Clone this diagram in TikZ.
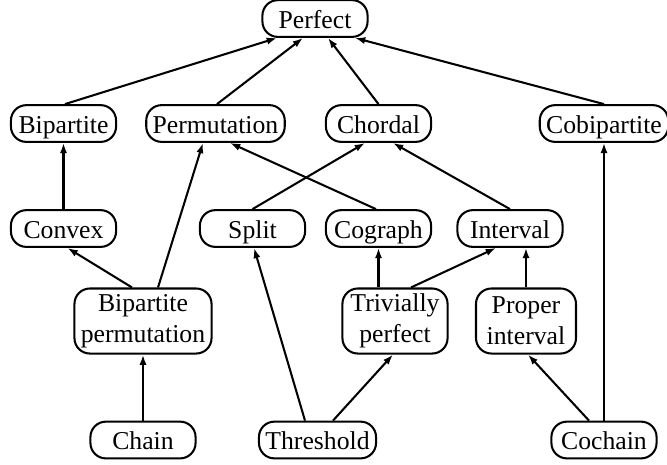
\documentclass[tikz,border=0pt]{standalone}
\usepackage{fontspec}
\setmainfont{Liberation Serif}
\usetikzlibrary{%
	calc,%
	arrows.meta
}

\begin{document}
\begin{tikzpicture}[x=0.389pt,y=-0.389pt,
		cls/.style={draw,line width=0.8pt,rounded corners=6pt,
			minimum width=40.9pt,inner xsep=2.5pt,inner ysep=2.5pt,
			text height=8.4pt,text depth=0.9pt,
			font=\rmfamily\fontsize{10}{12}\selectfont},
		cls2/.style={draw,line width=0.8pt,rounded corners=6pt,align=center,
			minimum width=40.9pt,minimum height=25.3pt,inner xsep=2.5pt,inner ysep=2pt,
			font=\rmfamily\fontsize{10}{12}\selectfont},
		sub/.style={-{Latex[length=4pt,width=2.8pt]},line width=0.8pt}]
			\useasboundingbox (0,0) rectangle (667,464);
			% Top
			\node[cls] (perfect) at (315,18.5) {Perfect};
			% Second row
			\node[cls] (bip) at (63.5,123.5) {Bipartite};
			\node[cls] (perm) at (215.5,123.5) {Permutation};
			\node[cls] (chordal) at (378.5,123.5) {Chordal};
			\node[cls] (cobip) at (604,123.5) {Cobipartite};
			% Third row
			\node[cls] (convex) at (63.5,228.5) {Convex};
			\node[cls] (split) at (252.5,228.5) {Split};
			\node[cls] (cograph) at (378.5,228.5) {Cograph};
			\node[cls] (interval) at (510,228.5) {Interval};
			% Two-line row
			\node[cls2] (bipperm) at (143,321) {Bipartite\\permutation};
			\node[cls2] (trivperf) at (395,321) {Trivially\\perfect};
			\node[cls2,minimum width=38.9pt] (propint) at (526,321) {Proper\\interval};
			% Bottom
			\node[cls] (chain) at (143,440) {Chain};
			\node[cls] (threshold) at (317.5,440) {Threshold};
			\node[cls] (cochain) at (604,440) {Cochain};
			
			% Into Perfect
			\draw[sub] ($(bip.north)+(1.5,0)$) -- ($(perfect.south)+(-38,0)$);
			\draw[sub] ($(perm.north)+(1.5,0)$) -- ($(perfect.south)+(-12,0)$);
			\draw[sub] (chordal.north) -- ($(perfect.south)+(13,0)$);
			\draw[sub] (cobip.north) -- ($(perfect.south)+(40,0)$);
			% Into second row
			\draw[sub] (convex.north) -- (bip.south);
			\draw[sub] ($(bipperm.north)+(15,0)$) -- ($(perm.south)+(-12.5,0)$);
			\draw[sub] ($(cograph.north)+(-2.5,0)$) -- ($(perm.south)+(14.5,0)$);
			\draw[sub] (split.north) -- ($(chordal.south)+(-13.5,0)$);
			\draw[sub] (interval.north) -- ($(chordal.south)+(14.5,0)$);
			\draw[sub] (cochain.north) -- (cobip.south);
			% Into third row
			\draw[sub] ($(bipperm.north)+(-11,0)$) -- ($(convex.south)+(4,0)$);
			\draw[sub] ($(threshold.north)+(-12.5,0)$) -- ($(split.south)+(1.5,0)$);
			\draw[sub] ($(trivperf.north)+(-16.5,0)$) -- (cograph.south);
			\draw[sub] ($(trivperf.north)+(16,0)$) -- ($(interval.south)+(-14,0)$);
			\draw[sub] (propint.north) -- ($(interval.south)+(16,0)$);
			% Into two-line row
			\draw[sub] (chain.north) -- (bipperm.south);
			\draw[sub] ($(threshold.north)+(15.5,0)$) -- ($(trivperf.south)+(-2,0)$);
			\draw[sub] ($(cochain.north)+(-15,0)$) -- ($(propint.south)+(2,0)$);
		\end{tikzpicture}
\end{document}
